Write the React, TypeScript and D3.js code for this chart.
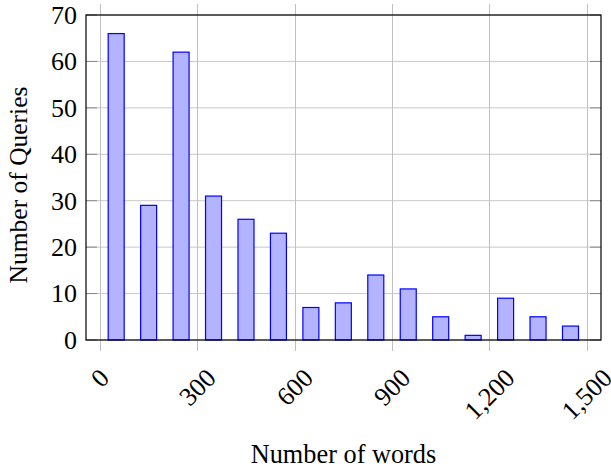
import React, { useRef, useEffect } from "react";
import * as d3 from "d3";

// bin centers (number of words) and counts
const binCenters = [50, 150, 250, 350, 450, 550, 650, 750, 850, 950, 1050, 1150, 1250, 1350, 1450];
const queryCounts = [66, 29, 62, 31, 26, 23, 7, 8, 14, 11, 5, 1, 9, 5, 3];
const xTicks = [0, 300, 600, 900, 1200, 1500];
const yTicks = [0, 10, 20, 30, 40, 50, 60, 70];

const App: React.FC = () => {
  const svgRef = useRef<SVGSVGElement>(null);

  useEffect(() => {
    const svg = d3.select(svgRef.current);
    svg.selectAll("*").remove();
    const width = 611;
    const height = 469;
    const margin = { top: 15, right: 10, bottom: 129, left: 86 };
    const font = "'Liberation Serif', 'Times New Roman', serif";

    const x = d3
      .scaleLinear()
      .domain([-43, 1544])
      .range([margin.left, width - margin.right]);

    const y = d3
      .scaleLinear()
      .domain([0, 70])
      .range([height - margin.bottom, margin.top]);

    const x0 = margin.left;
    const x1 = width - margin.right;
    const y0 = height - margin.bottom;
    const y1 = margin.top;

    // grid
    svg
      .append("g")
      .selectAll("line")
      .data(yTicks)
      .enter()
      .append("line")
      .attr("x1", x0)
      .attr("x2", x1)
      .attr("y1", (d) => y(d))
      .attr("y2", (d) => y(d))
      .attr("stroke", "#c8c8c8")
      .attr("stroke-width", 1);

    svg
      .append("g")
      .selectAll("line")
      .data(xTicks)
      .enter()
      .append("line")
      .attr("x1", (d) => Math.round(x(d)) + 0.5)
      .attr("x2", (d) => Math.round(x(d)) + 0.5)
      .attr("y1", y1 - 11)
      .attr("y2", y0 + 11)
      .attr("stroke", "#c0c0c0")
      .attr("stroke-width", 1);

    // y ticks inside, both sides
    const yt = svg.append("g");
    yTicks.forEach((d) => {
      yt.append("line")
        .attr("x1", x0)
        .attr("x2", x0 + 11)
        .attr("y1", y(d))
        .attr("y2", y(d))
        .attr("stroke", "#888")
        .attr("stroke-width", 1);
      yt.append("line")
        .attr("x1", x1 - 11)
        .attr("x2", x1)
        .attr("y1", y(d))
        .attr("y2", y(d))
        .attr("stroke", "#888")
        .attr("stroke-width", 1);
    });

    // bars
    const barW = 16;
    svg
      .append("g")
      .selectAll("rect")
      .data(binCenters.map((c, i) => [c, queryCounts[i]] as [number, number]))
      .enter()
      .append("rect")
      .attr("x", ([c]) => x(c) - barW / 2)
      .attr("y", ([, v]) => y(v))
      .attr("width", barW)
      .attr("height", ([, v]) => y(0) - y(v))
      .attr("fill", "#b3b3ff")
      .attr("stroke", "#0000ff")
      .attr("stroke-width", 1.2);

    // axis box
    svg
      .append("rect")
      .attr("x", x0)
      .attr("y", y1)
      .attr("width", x1 - x0)
      .attr("height", y0 - y1)
      .attr("fill", "none")
      .attr("stroke", "#000")
      .attr("stroke-width", 1.2);

    // y tick labels
    svg
      .append("g")
      .selectAll("text")
      .data(yTicks)
      .enter()
      .append("text")
      .attr("x", x0 - 9)
      .attr("y", (d) => y(d))
      .attr("dy", "0.34em")
      .attr("text-anchor", "end")
      .style("font-family", font)
      .style("font-size", "26px")
      .text((d) => d);

    // x tick labels, rotated 45deg, bbox top below the axis
    const fmt = d3.format(",");
    const xl = svg.append("g");
    xTicks.forEach((d) => {
      const t = xl
        .append("text")
        .attr("text-anchor", "middle")
        .attr("dy", "0.34em")
        .style("font-family", font)
        .style("font-size", "26px")
        .text(fmt(d));
      const w = (t.node() as SVGTextElement).getComputedTextLength();
      const h = (w + 18) * Math.SQRT1_2;
      t.attr("transform", `translate(${x(d)},${y0 + 27 + h / 2}) rotate(-45)`);
    });

    // axis labels
    svg
      .append("text")
      .attr("x", (x0 + x1) / 2)
      .attr("y", 463)
      .attr("text-anchor", "middle")
      .style("font-family", font)
      .style("font-size", "26.3px")
      .text("Number of words");

    svg
      .append("text")
      .attr("transform", `translate(27,${185}) rotate(-90)`)
      .attr("text-anchor", "middle")
      .style("font-family", font)
      .style("font-size", "25.5px")
      .text("Number of Queries");
  }, []);

  return (
    <svg
      ref={svgRef}
      width={611}
      height={469}
      style={{ position: "absolute", left: 0, top: 0, background: "#fff" }}
    ></svg>
  );
};

export default App;
